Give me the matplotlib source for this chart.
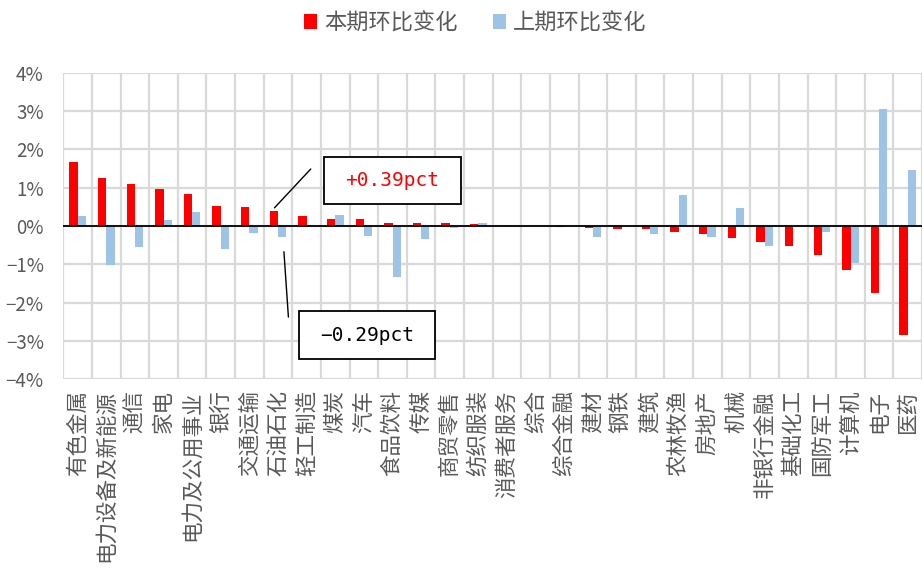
import numpy as np
import matplotlib
matplotlib.use("Agg")
import matplotlib.pyplot as plt
from matplotlib.patches import Rectangle

plt.rcParams["font.family"] = ["Noto Sans CJK SC", "DejaVu Sans"]
plt.rcParams["axes.unicode_minus"] = True

INDUSTRIES = ["有色金属", "电力设备及新能源", "通信", "家电", "电力及公用事业", "银行",
              "交通运输", "石油石化", "轻工制造", "煤炭", "汽车", "食品饮料", "传媒",
              "商贸零售", "纺织服装", "消费者服务", "综合", "综合金融", "建材", "钢铁",
              "建筑", "农林牧渔", "房地产", "机械", "非银行金融", "基础化工", "国防军工",
              "计算机", "电子", "医药"]

# 本期环比变化 (%)
CUR_CHANGE = [1.68, 1.26, 1.10, 0.97, 0.83, 0.51, 0.49, 0.39, 0.26, 0.19,
              0.17, 0.09, 0.09, 0.07, 0.05, 0.00, -0.01, -0.03, -0.05, -0.07,
              -0.09, -0.16, -0.21, -0.32, -0.42, -0.53, -0.77, -1.14, -1.76, -2.85]
# 上期环比变化 (%)
PREV_CHANGE = [0.25, -1.03, -0.54, 0.15, 0.37, -0.60, -0.19, -0.29, 0.00, 0.29,
               -0.25, -1.33, -0.33, -0.04, 0.07, -0.02, 0.00, 0.00, -0.30, 0.00,
               -0.21, 0.81, -0.30, 0.47, -0.52, -0.03, -0.15, -0.96, 3.05, 1.45]

RED = "#FF0000"
BLUE = "#9DC3E6"
GRID = "#D9D9D9"
TXT = "#595959"

fig = plt.figure(figsize=(9.23, 5.81), dpi=100)
ax = fig.add_axes([0.0686, 0.3472, 0.9304, 0.5277])

x = np.arange(len(INDUSTRIES))
w = 0.29
ax.bar(x - w / 2, CUR_CHANGE, w, color=RED, label="本期环比变化", zorder=3)
ax.bar(x + w / 2, PREV_CHANGE, w, color=BLUE, label="上期环比变化", zorder=3)

ax.set_xlim(-0.5, len(INDUSTRIES) - 0.5)
ax.set_ylim(-4, 4)
ax.set_yticks(np.arange(-4, 5, 1))
ax.set_yticklabels([f"{v}%".replace("-", "\u2212") for v in range(-4, 5)])
ax.set_xticks(x)
ax.set_xticklabels(INDUSTRIES, rotation=90, va="top", ha="center")
ax.set_xticks(np.arange(-0.5, len(INDUSTRIES)), minor=True)

ax.tick_params(axis="y", length=0, pad=14, labelsize=13.5, labelcolor=TXT)
ax.tick_params(axis="x", which="major", length=0, pad=8, labelsize=15.5, labelcolor=TXT)
ax.tick_params(axis="x", which="minor", length=0)
ax.grid(axis="y", color=GRID, linewidth=1.6, zorder=0)
ax.grid(axis="x", which="minor", color=GRID, linewidth=1.6, zorder=0)
ax.grid(axis="x", which="major", visible=False)
for s in ax.spines.values():
    s.set_visible(False)
ax.axhline(0, color="black", linewidth=1.3, zorder=4)

# callouts for 石油石化
ax.annotate("", xy=(6.81, 0.42), xytext=(8.21, 1.54),
            arrowprops=dict(arrowstyle="-", color="black", lw=1), zorder=5)
ax.add_patch(Rectangle((8.62, 0.57), 4.78, 1.23, facecolor="white",
                       edgecolor="black", lw=1.3, zorder=5))
ax.text(11.0, 1.19, "+0.39pct", color=RED, fontsize=14, family="DejaVu Sans Mono",
        ha="center", va="center", zorder=6)

ax.annotate("", xy=(7.20, -0.60), xytext=(7.37, -2.45),
            arrowprops=dict(arrowstyle="-", color="black", lw=1), zorder=5)
ax.add_patch(Rectangle((7.72, -3.47), 4.78, 1.25, facecolor="white",
                       edgecolor="black", lw=1.3, zorder=5))
ax.text(10.1, -2.85, "\u22120.29pct", color="black", fontsize=14,
        family=["DejaVu Sans Mono", "DejaVu Sans"], ha="center", va="center", zorder=6)

fig.legend(loc="upper center", bbox_to_anchor=(0.515, 1.015), ncol=2, frameon=False,
           fontsize=16, labelcolor=TXT, handlelength=0.6, handleheight=0.6,
           handletextpad=0.3, columnspacing=1.6)

fig.savefig("out.png", dpi=100)
